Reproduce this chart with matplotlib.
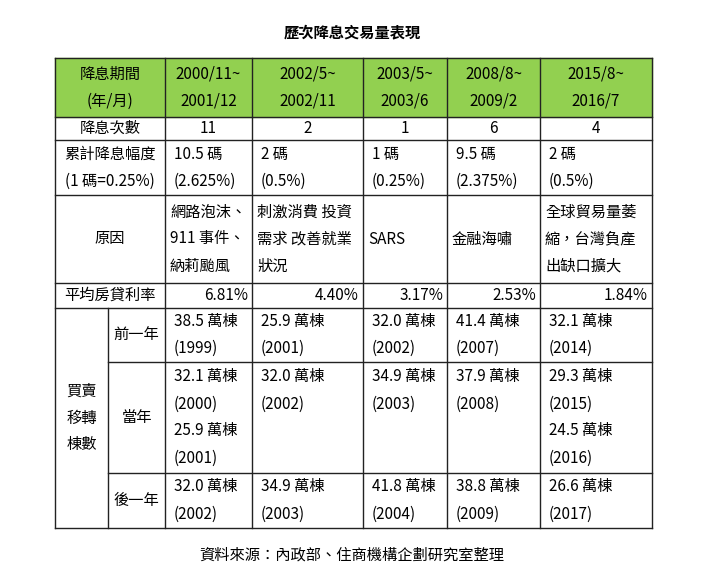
import matplotlib.pyplot as plt

plt.rcParams['font.family'] = ['Noto Sans CJK TC']

title = '歷次降息交易量表現'
source = '資料來源：內政部、住商機構企劃研究室整理'
periods = ['2000/11~\n2001/12', '2002/5~\n2002/11', '2003/5~\n2003/6', '2008/8~\n2009/2', '2015/8~\n2016/7']
cut_times = ['11', '2', '1', '6', '4']
cut_size = ['10.5 碼\n(2.625%)', '2 碼\n(0.5%)', '1 碼\n(0.25%)', '9.5 碼\n(2.375%)', '2 碼\n(0.5%)']
reasons = ['網路泡沫、\n911 事件、\n納莉颱風', '刺激消費 投資\n需求 改善就業\n狀況', 'SARS', '金融海嘯', '全球貿易量萎\n縮，台灣負產\n出缺口擴大']
mortgage_rate = ['6.81%', '4.40%', '3.17%', '2.53%', '1.84%']
prev_year = ['38.5 萬棟\n(1999)', '25.9 萬棟\n(2001)', '32.0 萬棟\n(2002)', '41.4 萬棟\n(2007)', '32.1 萬棟\n(2014)']
same_year = ['32.1 萬棟\n(2000)\n25.9 萬棟\n(2001)', '32.0 萬棟\n(2002)', '34.9 萬棟\n(2003)', '37.9 萬棟\n(2008)', '29.3 萬棟\n(2015)\n24.5 萬棟\n(2016)']
next_year = ['32.0 萬棟\n(2002)', '34.9 萬棟\n(2003)', '41.8 萬棟\n(2004)', '38.8 萬棟\n(2009)', '26.6 萬棟\n(2017)']
row_labels = ['降息期間\n(年/月)', '降息次數', '累計降息幅度\n(1 碼=0.25%)', '原因', '平均房貸利率']
trade_label = '買賣\n移轉\n棟數'
sub_labels = ['前一年', '當年', '後一年']

xs = [55, 108, 165, 252, 363, 447, 540, 652]
ys = [58, 117, 140, 195, 283, 308, 362, 473, 528]
LH = 27
FS = 11

fig = plt.figure(figsize=(7.04, 5.85), dpi=100)
ax = fig.add_axes([0, 0, 1, 1])
ax.set_xlim(0, 704)
ax.set_ylim(585, 0)
ax.axis('off')


def put(text, x, yc, ha='center', top=None, **kw):
    lines = text.split('\n')
    y0 = yc - (len(lines) - 1) * LH / 2 if top is None else top
    for i, ln in enumerate(lines):
        ax.text(x, y0 + i * LH, ln, ha=ha, va='center', fontsize=FS, **kw)


# header fill
ax.fill_between([xs[0], xs[-1]], ys[0], ys[1], color='#92D050', zorder=0)

# grid lines
lc = dict(color='#222222', lw=1)
for y in ys:
    x0 = xs[1] if y in (362, 473) else xs[0]
    ax.plot([x0, xs[-1]], [y, y], **lc)
for x in xs:
    if x == xs[1]:
        ax.plot([x, x], [ys[5], ys[-1]], **lc)
    else:
        ax.plot([x, x], [ys[0], ys[-1]], **lc)

ax.text(352, 32, title, ha='center', va='center', fontsize=11, fontweight='bold')
ax.text(352, 555, source, ha='center', va='center', fontsize=FS)

# row labels
for i, lab in enumerate(row_labels):
    put(lab, (xs[0] + xs[2]) / 2, (ys[i] + ys[i + 1]) / 2)
put(trade_label, (xs[0] + xs[1]) / 2, (ys[5] + ys[8]) / 2)
for i, lab in enumerate(sub_labels):
    put(lab, (xs[1] + xs[2]) / 2, (ys[5 + i] + ys[6 + i]) / 2)

# data cells
for j in range(5):
    l, r = xs[2 + j], xs[3 + j]
    cx = (l + r) / 2
    put(periods[j], cx, (ys[0] + ys[1]) / 2)
    put(cut_times[j], cx, (ys[1] + ys[2]) / 2)
    put(cut_size[j], l + 9, (ys[2] + ys[3]) / 2, ha='left')
    put(reasons[j], l + 5, (ys[3] + ys[4]) / 2, ha='left')
    put(mortgage_rate[j], r - 4, (ys[4] + ys[5]) / 2, ha='right')
    put(prev_year[j], l + 9, (ys[5] + ys[6]) / 2, ha='left')
    put(same_year[j], l + 9, None, ha='left', top=(ys[6] + ys[7]) / 2 - 1.5 * LH)
    put(next_year[j], l + 9, (ys[7] + ys[8]) / 2, ha='left')

fig.savefig('out.png', dpi=100)
